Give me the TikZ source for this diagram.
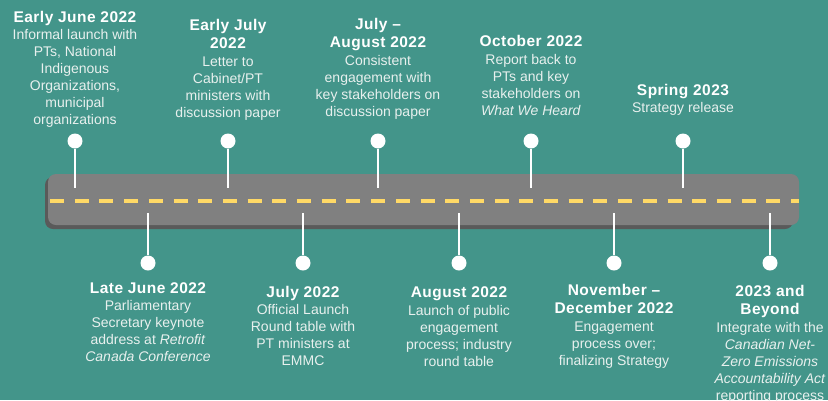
\documentclass[tikz,border=0pt]{standalone}
\usepackage{fontspec}
\setmainfont{Liberation Sans}
\newfontfamily\hdfam[LetterSpace=3]{Liberation Sans}
\definecolor{bg}{HTML}{43958A}
\definecolor{road}{HTML}{808080}
\definecolor{roadshadow}{HTML}{5A5A5A}
\definecolor{lane}{HTML}{FFD966}
\definecolor{bodytext}{HTML}{E8F0EE}
\newcommand{\hd}{\hdfam\fontsize{15.5}{17}\selectfont\bfseries\color{white}}
\begin{document}
\begin{tikzpicture}[x=1pt,y=-1pt,
  pindot/.style={circle,fill=white,inner sep=0,minimum size=15pt},
  pinstem/.style={draw=white,line width=2pt},
  evtext/.style={align=center,inner sep=0,anchor=north,text=bodytext,font=\fontsize{14}{17}\selectfont},
]
\useasboundingbox (0,0) rectangle (828,400);
\clip (0,0) rectangle (828,400);
\fill[bg] (0,0) rectangle (828,400);
% road
\fill[roadshadow,rounded corners=8pt] (45,177) rectangle (793,229);
\fill[road,rounded corners=8pt] (48,174) rectangle (799,225);
\coordinate (laneA) at (50,201);
\coordinate (laneB) at (799,201);
\draw[lane,line width=4pt,dash pattern=on 14pt off 10.7pt] (laneA) -- (laneB);
% top pins
\foreach \i/\x in {1/75,2/228,3/378,4/531,5/683}{
  \node[pindot] (p\i) at (\x,141) {};
  \coordinate (r\i) at (\x,188);
  \draw[pinstem] (p\i) -- (r\i);
}
% bottom pins
\foreach \i/\x in {6/148,7/303,8/459,9/614,10/770}{
  \coordinate (r\i) at (\x,213);
  \node[pindot] (p\i) at (\x,263) {};
  \draw[pinstem] (r\i) -- (p\i);
}
% top labels
\node[evtext] (l1) at (75,11.5) {{\hd Early June 2022}\\Informal launch with\\PTs, National\\Indigenous\\Organizations,\\municipal\\organizations};
\node[evtext] (l2) at (228,19.5) {{\hd Early July}\\[1pt]{\hd 2022}\\[1pt]Letter to\\Cabinet/PT\\ministers with\\discussion paper};
\node[evtext] (l3) at (378,18.5) {{\hd July –}\\[1pt]{\hd August 2022}\\[1pt]Consistent\\engagement with\\key stakeholders on\\discussion paper};
\node[evtext] (l4) at (531,35.5) {{\hd October 2022}\\[1pt]Report back to\\PTs and key\\stakeholders on\\\textit{What We Heard}};
\node[evtext] (l5) at (683,84.5) {{\hd Spring 2023}\\Strategy release};
% bottom labels
\node[evtext] (l6) at (148,282.5) {{\hd Late June 2022}\\Parliamentary\\Secretary keynote\\address at \textit{Retrofit}\\\textit{Canada Conference}};
\node[evtext] (l7) at (303,286.5) {{\hd July 2022}\\Official Launch\\Round table with\\PT ministers at\\EMMC};
\node[evtext] (l8) at (459,286.5) {{\hd August 2022}\\[1pt]Launch of public\\engagement\\process; industry\\round table};
\node[evtext] (l9) at (614,284.5) {{\hd November –}\\[1pt]{\hd December 2022}\\[1pt]Engagement\\process over;\\finalizing Strategy};
\node[evtext] (l10) at (770,285.5) {{\hd 2023 and}\\[1pt]{\hd Beyond}\\[1pt]Integrate with the\\\textit{Canadian Net-}\\\textit{Zero Emissions}\\\textit{Accountability Act}\\reporting process};
\end{tikzpicture}
\end{document}
